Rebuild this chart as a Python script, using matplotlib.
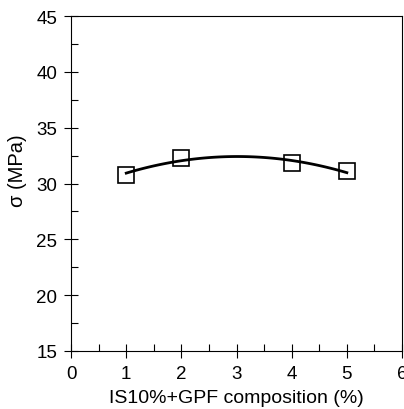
import numpy as np
import matplotlib
matplotlib.use("Agg")
import matplotlib.pyplot as plt
from matplotlib.ticker import MultipleLocator

plt.rcParams['font.family'] = ['Liberation Sans', 'DejaVu Sans']

# Messwerte
comp = [1, 2, 4, 5]              # IS10%+GPF composition (%)
sigma = [30.8, 32.3, 31.8, 31.1]  # sigma (MPa)

# quadratische Ausgleichskurve
coef = np.polyfit(comp, sigma, 2)
xf = np.linspace(1, 5, 100)
yf = np.polyval(coef, xf)

fig = plt.figure(figsize=(4.04, 4.10), dpi=100)
ax = fig.add_axes([0.176, 0.1415, 0.819, 0.817])

ax.plot(xf, yf, color='black', lw=2)
ax.plot(comp, sigma, 's', ms=12, mfc='none', mec='black', mew=1.2)

ax.set_xlim(0, 6)
ax.set_ylim(15, 45)
ax.xaxis.set_major_locator(MultipleLocator(1))
ax.xaxis.set_minor_locator(MultipleLocator(0.5))
ax.yaxis.set_major_locator(MultipleLocator(5))
ax.yaxis.set_minor_locator(MultipleLocator(2.5))
ax.tick_params(which='major', direction='inout', length=10, width=0.8,
               labelsize=13.5, colors='black', pad=5)
ax.tick_params(which='minor', direction='in', length=5, width=0.8)
for s in ax.spines.values():
    s.set_linewidth(0.8)

ax.set_xlabel('IS10%+GPF composition (%)', fontsize=14, labelpad=5)
ax.set_ylabel('σ (MPa)', fontsize=14.5)
ax.yaxis.set_label_coords(-0.133, 0.54)

fig.savefig('out.png', dpi=100)
